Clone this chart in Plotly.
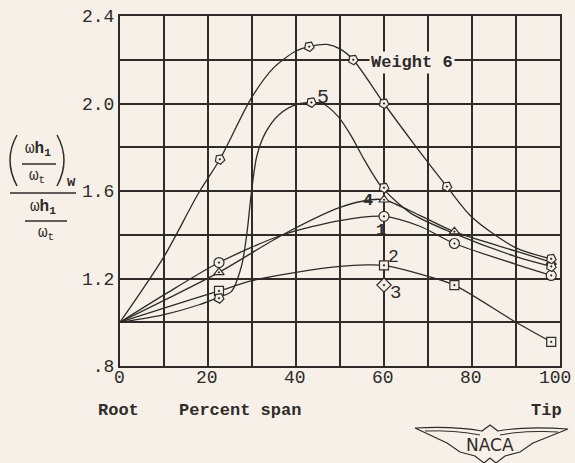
import plotly.graph_objects as go

# ---- data: frequency ratio vs. percent span for weight positions 1-6 ----
# measured stations (plotted symbols)
span_w1 = [22.5, 60, 76, 98]
ratio_w1 = [1.273, 1.484, 1.36, 1.214]
span_w2 = [22.5, 60, 76, 98]
ratio_w2 = [1.143, 1.26, 1.17, 0.91]
span_w3 = [60]
ratio_w3 = [1.17]
span_w4 = [22.5, 60, 76, 98]
ratio_w4 = [1.228, 1.56, 1.414, 1.275]
span_w5 = [22.5, 43.5, 60, 98]
ratio_w5 = [1.11, 2.005, 1.615, 1.255]
span_w6 = [22.7, 43, 53, 60, 74.3, 98]
ratio_w6 = [1.745, 2.26, 2.2, 2.0, 1.62, 1.29]

# faired curves through the stations (root value 1.0)
fair_span_w1 = [0, 10, 22.5, 37, 50, 60, 68, 76, 90, 98]
fair_ratio_w1 = [1.0, 1.125, 1.273, 1.40, 1.465, 1.484, 1.44, 1.36, 1.265, 1.214]
fair_span_w2 = [0, 10, 22.5, 30, 40, 50, 56, 60, 70, 76, 90, 98]
fair_ratio_w2 = [1.0, 1.065, 1.143, 1.19, 1.228, 1.255, 1.262, 1.26, 1.21, 1.17, 1.0, 0.91]
fair_span_w4 = [0, 10, 22.5, 37, 50, 57, 60, 68, 76, 90, 98]
fair_ratio_w4 = [1.0, 1.10, 1.228, 1.40, 1.525, 1.56, 1.56, 1.49, 1.414, 1.325, 1.275]
fair_span_w5 = [0, 10, 18, 22.5, 25.3, 27.6, 28.8, 29.9, 31.1, 33.1, 36.2, 40, 43.5,
                46, 49.6, 52.6, 55.6, 59.4, 66, 76, 90, 98]
fair_ratio_w5 = [1.0, 1.035, 1.08, 1.115, 1.14, 1.256, 1.40, 1.60, 1.76, 1.868, 1.95, 1.995,
                 2.005, 2.0, 1.94, 1.85, 1.74, 1.62, 1.50, 1.405, 1.30, 1.255]
fair_span_w6 = [0, 10, 17.7, 22.7, 30, 35, 40, 43, 47, 50, 53, 60, 67, 74.3, 80, 90, 98]
fair_ratio_w6 = [1.0, 1.30, 1.585, 1.745, 2.03, 2.165, 2.24, 2.26, 2.27, 2.25, 2.2, 2.0,
                 1.81, 1.62, 1.48, 1.34, 1.29]

x_tickvals = [0, 20, 40, 60, 80, 100]
x_ticktext = ["0", "20", "40", "60", "80", "100"]
y_tickvals = [0.8, 1.2, 1.6, 2.0, 2.4]
y_ticktext = [".8", "1.2", "1.6", "2.0", "2.4"]

# ---- styling ----
PAPER = "#f6f0e9"
INK = "#2e2b28"
MONO = "Liberation Mono, Courier New, monospace"
W, H = 575, 463
ML, MR, MT, MB = 120, 15, 16, 97
PW, PH = W - ML - MR, H - MT - MB


def px(x):
    return (x - ML) / PW


def py(y):
    return (MT + PH - y) / PH


fig = go.Figure()

curves = [
    (fair_span_w6, fair_ratio_w6),
    (fair_span_w5, fair_ratio_w5),
    (fair_span_w4, fair_ratio_w4),
    (fair_span_w1, fair_ratio_w1),
    (fair_span_w2, fair_ratio_w2),
]
for xs, ys in curves:
    fig.add_trace(go.Scatter(
        x=xs, y=ys, mode="lines",
        line=dict(color=INK, width=1.3, shape="spline", smoothing=0.8),
        hoverinfo="skip", showlegend=False))

markers = [
    (span_w1, ratio_w1, "circle-dot", 10, 0),
    (span_w2, ratio_w2, "square-dot", 9, 0),
    (span_w3, ratio_w3, "diamond-dot", 11, 0),
    (span_w4, ratio_w4, "triangle-up-dot", 9, 0),
    (span_w5, ratio_w5, "pentagon-dot", 10, 100),
    (span_w6, ratio_w6, "pentagon-dot", 10, 100),
]
for xs, ys, sym, size, ang in markers:
    fig.add_trace(go.Scatter(
        x=xs, y=ys, mode="markers",
        marker=dict(symbol=sym, size=size, angle=ang, color=PAPER,
                    line=dict(color=INK, width=1.2)),
        showlegend=False))

axis_common = dict(
    showline=True, mirror=True, linecolor=INK, linewidth=2,
    showgrid=True, gridcolor=INK, gridwidth=1.5,
    zeroline=False, ticks="", automargin=False,
    tickfont=dict(family=MONO, size=18, color=INK),
)
# x tick labels are placed as annotations on the x scale so "100" is not
# dropped at the right edge of the page
fig.update_xaxes(range=[0, 100], tickvals=x_tickvals, showticklabels=False,
                 minor=dict(dtick=10, showgrid=True, gridcolor=INK, gridwidth=1.5),
                 **axis_common)
fig.update_yaxes(range=[0.8, 2.4], tickvals=y_tickvals, ticktext=y_ticktext,
                 minor=dict(dtick=0.2, showgrid=True, gridcolor=INK, gridwidth=1.5),
                 **axis_common)

ann = []
for v, t in zip(x_tickvals, x_ticktext):
    ann.append(dict(x=v, y=py(378), xref="x", yref="paper", text=t,
                    showarrow=False, xanchor="center", yanchor="middle",
                    xshift=-5 if v == 100 else -1,
                    font=dict(family=MONO, size=18, color=INK)))


def label(x, y, text, size=17, bold=False, family=MONO, bg=None):
    if bold:
        text = "<b>" + text + "</b>"
    d = dict(x=px(x), y=py(y), xref="paper", yref="paper", text=text,
             showarrow=False, xanchor="center", yanchor="middle",
             font=dict(family=family, size=size, color=INK))
    if bg:
        d["bgcolor"] = bg
    ann.append(d)


# curve labels
label(412, 62, "Weight 6", 17, bold=True, bg=PAPER)
label(323, 97, "5", 20)
label(368, 200, "4", 17, bold=True)
label(381, 230, "1", 17, bold=True)
label(393, 257, "2", 18)
label(395, 293, "3", 19)

# x-axis captions
label(118, 410, "Root", 17, bold=True)
label(240, 410, "Percent span", 17, bold=True)
label(546, 410, "Tip", 17, bold=True)

# y-axis caption: (w_h1 / w_t)_w over (w_h1 / w_t)
label(38, 149, "ω<b>h</b><sub><b>1</b></sub>", 16)
label(37, 176, "ω<sub>t</sub>", 16)
label(71, 182, "w", 14, bold=True)
label(43, 207, "ω<b>h</b><sub><b>1</b></sub>", 16)
label(46, 234, "ω<sub>t</sub>", 16)

# NACA emblem text
label(490, 445, "NACA", 17, family="DejaVu Sans")
fig.update_layout(annotations=ann)

shapes = []


def hline(x0, x1, y, w=1.6):
    shapes.append(dict(type="line", xref="paper", yref="paper",
                       x0=px(x0), x1=px(x1), y0=py(y), y1=py(y),
                       line=dict(color=INK, width=w)))


def path(points, closed=False, w=1.3):
    s = ""
    for cmd, *pts in points:
        coords = " ".join(f"{px(pts[j]):.4f},{py(pts[j + 1]):.4f}" for j in range(0, len(pts), 2))
        s += f"{cmd} {coords} "
    if closed:
        s += "Z"
    shapes.append(dict(type="path", xref="paper", yref="paper", path=s.strip(),
                       line=dict(color=INK, width=w)))


hline(22, 56, 164)
hline(10, 76, 193)
hline(25, 67, 221)
# parentheses
path([("M", 17, 135), ("Q", 3, 160, 17, 186)], w=1.5)
path([("M", 57, 135), ("Q", 71, 160, 57, 186)], w=1.5)

# NACA wings
path([("M", 415, 428), ("Q", 455, 426, 482, 431), ("L", 490, 425), ("L", 498, 431),
      ("Q", 525, 426, 568, 429),
      ("L", 533, 443), ("L", 520, 452), ("L", 505, 456), ("L", 496, 463),
      ("L", 490, 458), ("L", 484, 463), ("L", 475, 456), ("L", 460, 452),
      ("L", 447, 443)], closed=True, w=1.2)
path([("M", 425, 431), ("Q", 455, 430, 480, 435)], w=1.0)
path([("M", 558, 432), ("Q", 525, 430, 500, 435)], w=1.0)

fig.update_layout(
    shapes=shapes,
    width=W, height=H,
    margin=dict(l=ML, r=MR, t=MT, b=MB, autoexpand=False),
    paper_bgcolor=PAPER, plot_bgcolor=PAPER,
    showlegend=False,
)

fig.write_html("out.html")
